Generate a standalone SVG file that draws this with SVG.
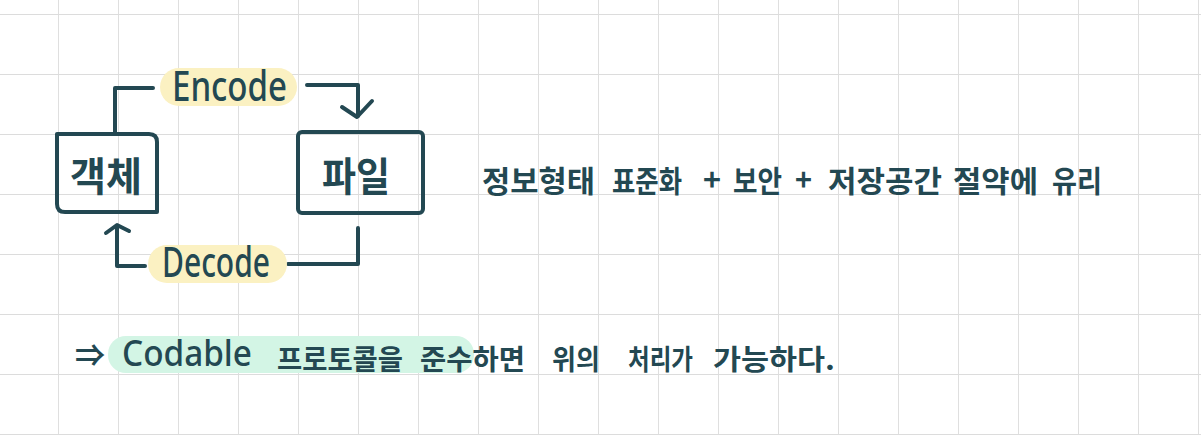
<svg xmlns="http://www.w3.org/2000/svg" width="1201" height="435" viewBox="0 0 1201 435">
<defs>
<pattern id="grid" x="-1" y="14" width="60" height="60" patternUnits="userSpaceOnUse">
<path d="M60,0 V60 M0,0 H60" fill="none" stroke="#dcdcdc" stroke-width="1.8"/>
</pattern>
<style>
.ink{fill:none;stroke:#234852;stroke-width:4;stroke-linecap:round;stroke-linejoin:round}
.t{fill:#234852;font-family:"Noto Sans CJK KR","Noto Sans",sans-serif;font-weight:700}
.lat{fill:#234852;font-family:"Noto Sans","Noto Sans CJK KR",sans-serif;font-weight:500}
.n{font-size:30px}
.c{font-size:28px}
.hy{fill:#fbf1c2}
.hg{fill:#d3f5e5}
</style>
</defs>
<rect width="1201" height="435" fill="#ffffff"/>
<rect width="1201" height="435" fill="url(#grid)"/>

<g id="connectors">
<path class="ink" d="M115,133 V88 H153"/>
<path class="ink" d="M307,85 H358 V116"/>
<polyline class="ink" points="342,107 357,117 372,101"/>
<path class="ink" d="M358,228 V264 H288"/>
<path class="ink" d="M145,266 H117 V226"/>
<polyline class="ink" points="106,233 117,225 129,231"/>
</g>

<g id="obj">
<path class="ink" d="M57,134 H149 Q157,134 157,142 V212 H65 Q57,212 57,204 Z"/>
<text class="t" x="106" y="191" font-size="40" text-anchor="middle" textLength="72" lengthAdjust="spacingAndGlyphs" font-weight="500">객체</text>
</g>

<g id="file">
<rect class="ink" x="298" y="132" width="125" height="81" rx="4"/>
<text class="t" x="356" y="191" font-size="40" text-anchor="middle" textLength="68" lengthAdjust="spacingAndGlyphs" font-weight="500">파일</text>
</g>

<g id="encode">
<rect class="hy" x="160" y="68" width="137" height="38" rx="19"/>
<text class="lat" x="172" y="101" font-size="42" textLength="115" lengthAdjust="spacingAndGlyphs">Encode</text>
</g>

<g id="decode">
<rect class="hy" x="148" y="245" width="139" height="38" rx="19"/>
<text class="lat" x="162" y="277" font-size="42" textLength="108" lengthAdjust="spacingAndGlyphs">Decode</text>
</g>

<g id="note">
<text class="t n" x="482" y="192" textLength="113" lengthAdjust="spacingAndGlyphs">정보형태</text>
<text class="t n" x="612" y="192" textLength="70" lengthAdjust="spacingAndGlyphs">표준화</text>
<text class="t n" x="703" y="191" textLength="18" lengthAdjust="spacingAndGlyphs">+</text>
<text class="t n" x="733" y="192" textLength="49" lengthAdjust="spacingAndGlyphs">보안</text>
<text class="t n" x="795" y="191" textLength="17" lengthAdjust="spacingAndGlyphs">+</text>
<text class="t n" x="828" y="192" textLength="114" lengthAdjust="spacingAndGlyphs">저장공간</text>
<text class="t n" x="953" y="192" textLength="85" lengthAdjust="spacingAndGlyphs">절약에</text>
<text class="t n" x="1052" y="192" textLength="50" lengthAdjust="spacingAndGlyphs">유리</text>
</g>

<g id="conclusion">
<rect class="hg" x="108" y="336" width="366" height="37" rx="18"/>
<text class="t" x="75" y="366" font-size="30" textLength="30" lengthAdjust="spacingAndGlyphs">⇒</text>
<text class="lat" x="122" y="366" font-size="36" textLength="130" lengthAdjust="spacingAndGlyphs">Codable</text>
<text class="t c" x="277" y="370" textLength="126" lengthAdjust="spacingAndGlyphs">프로토콜을</text>
<text class="t c" x="420" y="370" textLength="105" lengthAdjust="spacingAndGlyphs">준수하면</text>
<text class="t c" x="552" y="370" textLength="48" lengthAdjust="spacingAndGlyphs">위의</text>
<text class="t c" x="628" y="370" textLength="65" lengthAdjust="spacingAndGlyphs">처리가</text>
<text class="t c" x="713" y="370" textLength="122" lengthAdjust="spacingAndGlyphs">가능하다.</text>
</g>
</svg>
